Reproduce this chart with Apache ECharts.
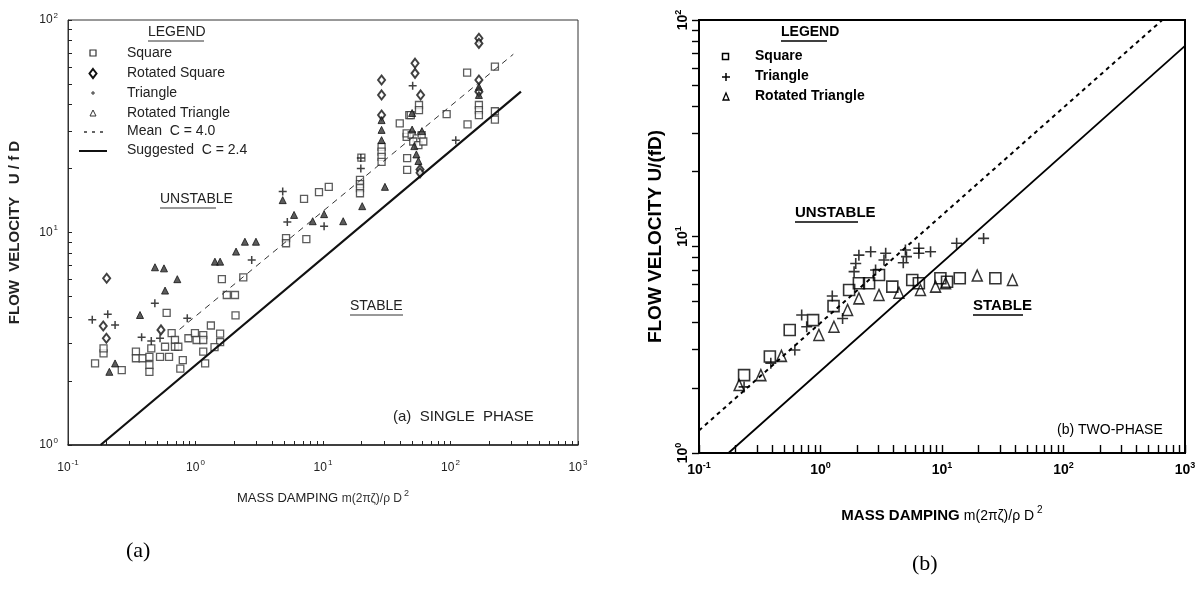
<!DOCTYPE html>
<html><head><meta charset="utf-8">
<script src="https://cdn.jsdelivr.net/npm/echarts@6/dist/echarts.min.js"></script>
<style>html,body{margin:0;padding:0;background:#fff}#c{width:1201px;height:592px}</style>
</head><body><div id="c"></div>
<script>
// ---------- Panel (a): single phase ----------
const squareA = [[0.163,2.42],[0.19,2.70],[0.19,2.85],[0.264,2.25],[0.341,2.75],[0.341,2.56],[0.385,2.56],[0.435,2.60],[0.435,2.38],[0.435,2.21],[0.45,2.85],[0.527,2.60],[0.62,2.60],[0.577,2.90],[0.65,3.36],[0.69,3.12],[0.69,2.90],[0.733,2.90],[0.795,2.51],[0.76,2.29],[0.88,3.18],[0.99,3.36],[1.02,3.12],[1.15,3.29],[1.15,3.12],[1.15,2.75],[1.19,2.42],[1.32,3.65],[1.56,3.34],[1.56,3.05],[1.41,2.89],[0.594,4.19],[2.06,4.07],[1.76,5.08],[2.04,5.08],[1.61,6.03],[2.37,6.15],[5.13,9.4],[5.13,8.9],[7.4,9.3],[7.1,14.4],[9.3,15.5],[11.1,16.4],[19.5,17.7],[19.5,16.9],[19.5,16.2],[19.5,15.3],[20,22.5],[28.8,25.3],[28.8,24],[28.8,22.7],[28.8,21.5],[40,32.6],[47.5,35.7],[45.3,28.2],[45.7,22.4],[45.7,19.7],[45.3,29.3],[49.6,28.7],[54.3,27.7],[51,26.8],[56,25.8],[59.4,28.7],[61.2,26.8],[56.6,39.8],[56.6,37.7],[48.8,35.7],[93.3,36.1],[135,56.5],[136,32.3],[167,39.8],[167,37.7],[167,35.7],[223,60.4],[223,37.2],[223,34]];
const rotSquareA = [[0.201,6.09],[0.189,3.63],[0.2,3.18],[0.536,3.48],[28.8,52.2],[28.8,44.4],[28.8,35.7],[52.7,62.6],[52.7,56.1],[58.3,44.4],[167,82],[167,77.6],[167,52.2],[167,46],[57.7,19.8],[57.7,19.1]];
const triangleA = [[0.155,3.88],[0.205,4.12],[0.234,3.67],[0.378,3.21],[0.48,4.64],[0.45,3.09],[0.527,3.18],[0.862,3.95],[2.76,7.43],[4.83,15.6],[5.25,11.2],[10.2,10.7],[19.8,22.4],[19.8,20],[50.5,49],[110,27.2]];
const rotTriangleA = [[0.481,6.86],[0.566,6.78],[0.72,6.03],[0.577,5.33],[0.367,4.09],[0.211,2.21],[0.234,2.42],[1.42,7.29],[1.56,7.29],[2.08,8.13],[2.44,9.05],[2.98,9.05],[4.83,14.2],[5.93,12.1],[8.3,11.3],[10.2,12.2],[14.4,11.3],[20.3,13.3],[30.6,16.4],[28.8,33.8],[28.8,30.4],[28.8,27.2],[50,36.5],[50,30.5],[59.7,30],[52,25.5],[54,23.3],[56,21.7],[167,48.5],[167,44.4]];
const meanLineA = [[0.75,3.5],[311,69]];       // Mean C = 4.0
const suggestedLineA = [[0.18,1.0],[357,46]];   // Suggested C = 2.4

// ---------- Panel (b): two-phase ----------
const squareB = [[0.235,2.29],[0.383,2.79],[0.558,3.70],[0.869,4.11],[1.28,4.77],[1.72,5.66],[2.07,6.08],[2.51,6.08],[3.03,6.64],[3.90,5.87],[5.69,6.3],[6.45,6.08],[9.7,6.41],[11,6.18],[14,6.41],[27.5,6.41]];
const plusB = [[0.235,2.02],[0.39,2.60],[0.615,2.99],[0.70,4.34],[0.77,3.83],[1.25,5.31],[1.52,4.18],[1.89,6.88],[1.95,7.5],[2.07,8.2],[2.59,8.5],[2.84,7.0],[3.33,7.79],[3.44,8.37],[4.8,7.57],[5.0,8.66],[5.1,8.07],[6.45,8.82],[6.45,8.37],[8.05,8.5],[13.2,9.3],[22,9.8]];
const rotTriangleB = [[0.214,2.06],[0.323,2.29],[0.477,2.81],[0.97,3.51],[1.29,3.83],[1.67,4.58],[2.07,5.18],[3.03,5.37],[4.42,5.5],[6.65,5.66],[8.85,5.87],[10.7,6.08],[19.5,6.6],[38,6.3]];
const meanLineB = [[0.1,1.27],[650,100]];
const suggestedLineB = [[0.175,1.0],[1000,76]];

// ---------- Axis ticks (decades + 2..9 subdivisions) ----------
const xTicks = [0.1,0.2,0.3,0.4,0.5,0.6,0.7,0.8,0.9,1,2,3,4,5,6,7,8,9,10,20,30,40,50,60,70,80,90,100,200,300,400,500,600,700,800,900,1000];
const yTicks = [1,2,3,4,5,6,7,8,9,10,20,30,40,50,60,70,80,90,100];

const NARROW = "'Liberation Sans Narrow','Arial Narrow','Liberation Sans',Arial,sans-serif";
const SANS = "'Liberation Sans',Arial,sans-serif";
const PLUS = 'path://M0,5L10,5M5,0L5,10';

function fmtPow(v){ const e = Math.round(Math.log10(v)); return '{b|10}{s|' + e + '}'; }

const richA = { b:{fontSize:12, fontFamily:SANS, color:'#222'}, s:{fontSize:8, fontFamily:SANS, color:'#222', padding:[0,0,9,1]} };
const richB = { b:{fontSize:14, fontFamily:NARROW, fontWeight:'bold', color:'#000'}, s:{fontSize:9, fontFamily:NARROW, fontWeight:'bold', color:'#000', padding:[0,0,10,0]} };

function logAxis(opts){
  return Object.assign({type:'log', logBase:10, splitLine:{show:false}, axisPointer:{show:false}}, opts);
}

const option = {
  animation:false,
  backgroundColor:'#fff',
  grid:[
    {left:68, top:20, width:510, height:425, show:true, borderColor:'#333', borderWidth:1},
    {left:699, top:20, width:486, height:433, show:true, borderColor:'#000', borderWidth:2}
  ],
  xAxis:[
    logAxis({gridIndex:0, position:'bottom', min:0.1, max:1000,
      axisLine:{lineStyle:{color:'#222', width:1.5}},
      axisTick:{inside:true, length:4, customValues:xTicks, lineStyle:{color:'#222'}},
      axisLabel:{formatter:fmtPow, rich:richA, margin:14},
      name:'{t|MASS DAMPING }{m|m(2πζ)/ρ D}{s|2}', nameLocation:'middle', nameGap:44,
      nameTextStyle:{rich:{t:{fontSize:13, fontFamily:NARROW, color:'#222'}, m:{fontSize:12, fontFamily:SANS, color:'#333'}, s:{fontSize:9, fontFamily:SANS, color:'#333', padding:[0,0,10,2]}}}}),
    logAxis({gridIndex:1, position:'bottom', min:0.1, max:1000,
      axisLine:{lineStyle:{color:'#000', width:2}},
      axisTick:{inside:true, length:8, customValues:xTicks, lineStyle:{color:'#000', width:1.4}},
      axisLabel:{formatter:fmtPow, rich:richB, margin:8},
      name:'{t|MASS DAMPING }{m|m(2πζ)/ρ D}{s|2}', nameLocation:'middle', nameGap:52,
      nameTextStyle:{rich:{t:{fontSize:15, fontFamily:NARROW, fontWeight:'bold', color:'#000'}, m:{fontSize:14, fontFamily:NARROW, color:'#000'}, s:{fontSize:10, fontFamily:NARROW, color:'#000', padding:[0,0,12,3]}}}})
  ],
  yAxis:[
    logAxis({gridIndex:0, position:'left', min:1, max:100,
      axisLine:{lineStyle:{color:'#333', width:1}},
      axisTick:{inside:true, length:4, customValues:yTicks, lineStyle:{color:'#222'}},
      axisLabel:{formatter:fmtPow, rich:richA, margin:10},
      name:'FLOW  VELOCITY   U / f D', nameLocation:'middle', nameGap:46, nameRotate:90,
      nameTextStyle:{fontSize:15, fontWeight:'bold', fontFamily:SANS, color:'#222'}}),
    logAxis({gridIndex:1, position:'left', min:1, max:100,
      axisLine:{lineStyle:{color:'#000', width:2}},
      axisTick:{inside:false, length:7, customValues:yTicks, lineStyle:{color:'#000', width:1.4}},
      axisLabel:{formatter:fmtPow, rich:richB, margin:6, rotate:90},
      name:'FLOW VELOCITY U/(fD)', nameLocation:'middle', nameGap:34, nameRotate:90,
      nameTextStyle:{fontSize:19, fontWeight:'bold', fontFamily:NARROW, color:'#000'}})
  ],
  series:[
    {name:'Mean C = 4.0', type:'line', xAxisIndex:0, yAxisIndex:0, data:meanLineA, showSymbol:false, lineStyle:{color:'#333', width:1, type:[6,5]}},
    {name:'Suggested C = 2.4', type:'line', xAxisIndex:0, yAxisIndex:0, data:suggestedLineA, showSymbol:false, lineStyle:{color:'#111', width:2.2}},
    {name:'Square', type:'scatter', xAxisIndex:0, yAxisIndex:0, data:squareA, symbol:'rect', symbolSize:7, itemStyle:{color:'#fff', borderColor:'#333', borderWidth:1.3}},
    {name:'Rotated Square', type:'scatter', xAxisIndex:0, yAxisIndex:0, data:rotSquareA, symbol:'diamond', symbolSize:[7,9], itemStyle:{color:'#fff', borderColor:'#111', borderWidth:2}},
    {name:'Triangle', type:'scatter', xAxisIndex:0, yAxisIndex:0, data:triangleA, symbol:PLUS, symbolSize:8, itemStyle:{color:'none', borderColor:'#111', borderWidth:1.5}},
    {name:'Rotated Triangle', type:'scatter', xAxisIndex:0, yAxisIndex:0, data:rotTriangleA, symbol:'triangle', symbolSize:[7,7], itemStyle:{color:'#333', borderColor:'#111', borderWidth:1}},
    {name:'b:Mean', type:'line', xAxisIndex:1, yAxisIndex:1, data:meanLineB, showSymbol:false, lineStyle:{color:'#000', width:2, type:[4,4]}},
    {name:'b:Suggested', type:'line', xAxisIndex:1, yAxisIndex:1, data:suggestedLineB, showSymbol:false, lineStyle:{color:'#000', width:1.8}},
    {name:'b:Square', type:'scatter', xAxisIndex:1, yAxisIndex:1, data:squareB, symbol:'rect', symbolSize:11, itemStyle:{color:'none', borderColor:'#000', borderWidth:1.6}},
    {name:'b:Triangle', type:'scatter', xAxisIndex:1, yAxisIndex:1, data:plusB, symbol:PLUS, symbolSize:11, itemStyle:{color:'none', borderColor:'#000', borderWidth:1.6}},
    {name:'b:Rotated Triangle', type:'scatter', xAxisIndex:1, yAxisIndex:1, data:rotTriangleB, symbol:'triangle', symbolSize:[10,11], itemStyle:{color:'none', borderColor:'#000', borderWidth:1.5}}
  ],
  graphic:[
    // Panel (a) legend
    {type:'text', left:148, top:25, style:{text:'LEGEND', font:"14px "+NARROW, fill:'#222'}},
    {type:'line', shape:{x1:148, y1:41, x2:204, y2:41}, style:{stroke:'#333', lineWidth:1}},
    {type:'rect', shape:{x:90, y:50, width:6, height:6}, style:{fill:'#fff', stroke:'#333', lineWidth:1.2}},
    {type:'text', left:127, top:46, style:{text:'Square', font:"14px "+NARROW, fill:'#222'}},
    {type:'polygon', shape:{points:[[93,69],[96.5,73.5],[93,78],[89.5,73.5]]}, style:{fill:'#fff', stroke:'#111', lineWidth:2}},
    {type:'text', left:127, top:66, style:{text:'Rotated Square', font:"14px "+NARROW, fill:'#222'}},
    {type:'line', shape:{x1:91, y1:93, x2:95, y2:93}, style:{stroke:'#333', lineWidth:1}},
    {type:'line', shape:{x1:93, y1:91, x2:93, y2:95}, style:{stroke:'#333', lineWidth:1}},
    {type:'text', left:127, top:86, style:{text:'Triangle', font:"14px "+NARROW, fill:'#222'}},
    {type:'polygon', shape:{points:[[93,110],[96,116],[90,116]]}, style:{fill:'#fff', stroke:'#333', lineWidth:1}},
    {type:'text', left:127, top:106, style:{text:'Rotated Triangle', font:"14px "+NARROW, fill:'#222'}},
    {type:'line', shape:{x1:84, y1:132, x2:106, y2:132}, style:{stroke:'#333', lineWidth:1.3, lineDash:[3,5]}},
    {type:'text', left:127, top:124, style:{text:'Mean  C = 4.0', font:"14px "+NARROW, fill:'#222'}},
    {type:'line', shape:{x1:79, y1:151, x2:107, y2:151}, style:{stroke:'#111', lineWidth:2}},
    {type:'text', left:127, top:143, style:{text:'Suggested  C = 2.4', font:"14px "+NARROW, fill:'#222'}},
    // Panel (a) annotations
    {type:'text', left:160, top:192, style:{text:'UNSTABLE', font:"14px "+NARROW, fill:'#222'}},
    {type:'line', shape:{x1:160, y1:208, x2:216, y2:208}, style:{stroke:'#333', lineWidth:1}},
    {type:'text', left:350, top:299, style:{text:'STABLE', font:"14px "+NARROW, fill:'#222'}},
    {type:'line', shape:{x1:350, y1:315, x2:403, y2:315}, style:{stroke:'#333', lineWidth:1}},
    {type:'text', left:393, top:409, style:{text:'(a)  SINGLE  PHASE', font:"15px "+SANS, fill:'#222'}},
    {type:'text', left:126, top:540, style:{text:'(a)', font:"22px 'Liberation Serif','Times New Roman',serif", fill:'#000'}},
    // Panel (b) legend
    {type:'text', left:781, top:25, style:{text:'LEGEND', font:"bold 14px "+NARROW, fill:'#000'}},
    {type:'line', shape:{x1:781, y1:41, x2:827, y2:41}, style:{stroke:'#000', lineWidth:1.5}},
    {type:'rect', shape:{x:722.5, y:53.5, width:6, height:6}, style:{fill:'#fff', stroke:'#000', lineWidth:1.5}},
    {type:'text', left:755, top:49, style:{text:'Square', font:"bold 14px "+NARROW, fill:'#000'}},
    {type:'line', shape:{x1:722, y1:77, x2:730, y2:77}, style:{stroke:'#000', lineWidth:1.5}},
    {type:'line', shape:{x1:726, y1:73, x2:726, y2:81}, style:{stroke:'#000', lineWidth:1.5}},
    {type:'text', left:755, top:69, style:{text:'Triangle', font:"bold 14px "+NARROW, fill:'#000'}},
    {type:'polygon', shape:{points:[[726,93],[729,100],[723,100]]}, style:{fill:'#fff', stroke:'#000', lineWidth:1.3}},
    {type:'text', left:755, top:89, style:{text:'Rotated Triangle', font:"bold 14px "+NARROW, fill:'#000'}},
    // Panel (b) annotations
    {type:'text', left:795, top:205, style:{text:'UNSTABLE', font:"bold 15px "+NARROW, fill:'#000'}},
    {type:'line', shape:{x1:795, y1:222, x2:858, y2:222}, style:{stroke:'#000', lineWidth:1.5}},
    {type:'text', left:973, top:298, style:{text:'STABLE', font:"bold 15px "+NARROW, fill:'#000'}},
    {type:'line', shape:{x1:973, y1:315, x2:1023, y2:315}, style:{stroke:'#000', lineWidth:1.5}},
    {type:'text', left:1057, top:423, style:{text:'(b) TWO-PHASE', font:"14px "+NARROW, fill:'#000'}},
    {type:'text', left:912, top:553, style:{text:'(b)', font:"22px 'Liberation Serif','Times New Roman',serif", fill:'#000'}}
  ]
};
const chart = echarts.init(document.getElementById('c'));
chart.setOption(option);
</script>
</body></html>
